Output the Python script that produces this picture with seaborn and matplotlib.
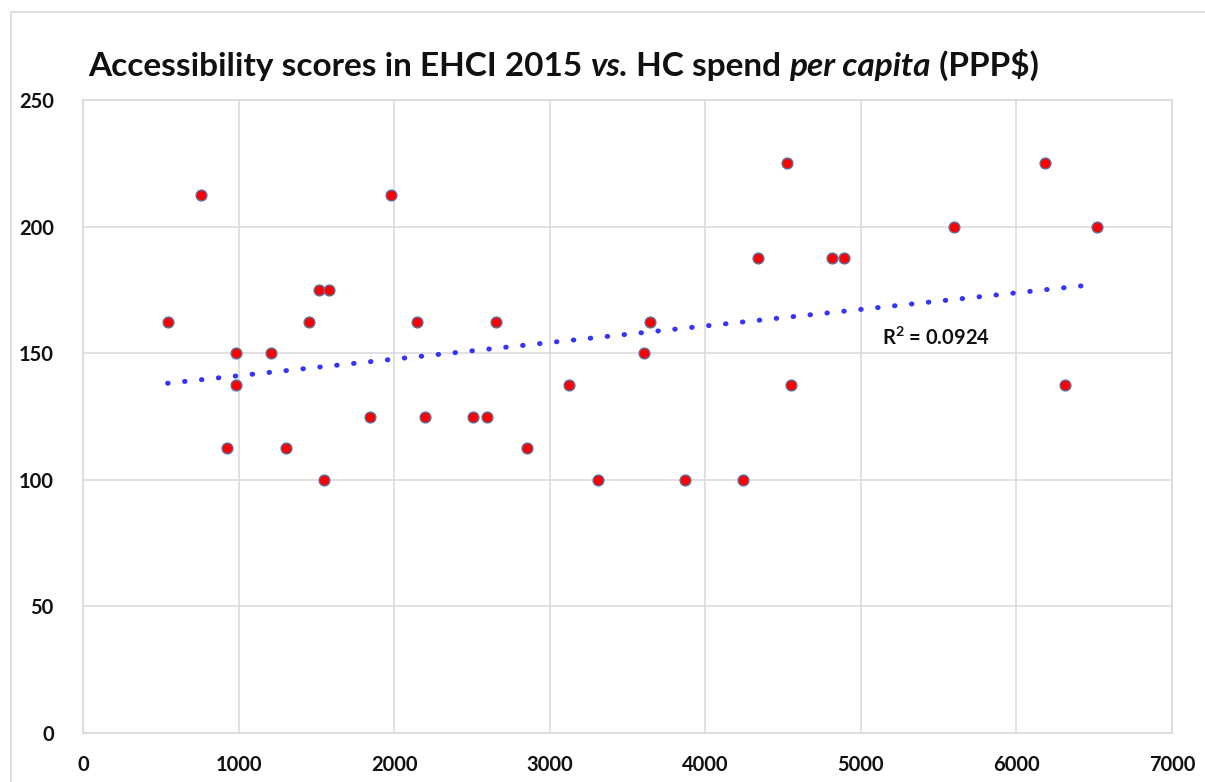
import numpy as np
import pandas as pd
import seaborn as sns
import matplotlib.pyplot as plt
from matplotlib.lines import Line2D

# Datos
spend = [544, 759, 926, 984, 984, 1209, 1307, 1451, 1520, 1552, 1580, 1846,
         1981, 2148, 2197, 2510, 2598, 2656, 2853, 3125, 3312, 3603, 3642,
         3869, 4245, 4336, 4525, 4551, 4817, 4889, 5597, 6186, 6312, 6519]
score = [162.5, 212.5, 112.5, 150, 137.5, 150, 112.5, 162.5, 175, 100, 175, 125,
         212.5, 162.5, 125, 125, 125, 162.5, 112.5, 137.5, 100, 150, 162.5,
         100, 100, 187.5, 225, 137.5, 187.5, 187.5, 200, 225, 137.5, 200]
x_ticks = [0, 1000, 2000, 3000, 4000, 5000, 6000, 7000]
y_ticks = [0, 50, 100, 150, 200, 250]
r2_label = r"R$^{\mathbf{2}}$ = 0.0924"

df = pd.DataFrame({"spend": spend, "score": score})

sns.set_theme(style="white")
plt.rcParams['font.family'] = ['Lato', 'DejaVu Sans']
plt.rcParams['mathtext.fontset'] = 'custom'
plt.rcParams['mathtext.bf'] = 'Lato:bold'
plt.rcParams['mathtext.rm'] = 'Lato'

W, H = 1205, 782
fig = plt.figure(figsize=(W / 100, H / 100), dpi=100)
ax = fig.add_axes([83 / W, 1 - 733 / H, (1172 - 83) / W, (733 - 100) / H])

GRID = "#d9d9d9"

# Línea de tendencia (regresión lineal)
sns.regplot(data=df, x="spend", y="score", scatter=False, ci=None, ax=ax,
            line_kws=dict(color="#3535f5", lw=3.6, linestyle=(0, (0.1, 3.3)),
                          dash_capstyle="round", zorder=3))

sns.scatterplot(data=df, x="spend", y="score", ax=ax, s=60, color="#ff0000",
                edgecolor="#5a6f9c", linewidth=1.0, zorder=4)

ax.set_xlim(0, 7000)
ax.set_ylim(0, 250)
ax.set_xticks(x_ticks)
ax.set_yticks(y_ticks)
ax.set_xlabel("")
ax.set_ylabel("")
ax.grid(True, color=GRID, lw=1.1)
ax.set_axisbelow(True)
for s in ax.spines.values():
    s.set_color(GRID)
    s.set_linewidth(1.2)
ax.tick_params(axis="both", length=0, labelsize=14.5, labelcolor="#111111")
ax.tick_params(axis="x", pad=16)
ax.tick_params(axis="y", pad=21)
for lab in ax.get_xticklabels() + ax.get_yticklabels():
    lab.set_fontweight("bold")

ax.text(5136, 153.3, r2_label, fontsize=14.5, fontweight="bold",
        ha="left", va="baseline", color="#111111")

# Título con partes en cursiva
parts = [("Accessibility scores in EHCI 2015 ", "normal"),
         ("vs.", "italic"),
         (" HC spend ", "normal"),
         ("per capita", "italic"),
         (" (PPP$)", "normal")]
fig.canvas.draw()
renderer = fig.canvas.get_renderer()
xpos = 88 / W
for txt, style in parts:
    t = fig.text(xpos, 1 - 76 / H, txt, fontsize=24, fontweight="bold",
                 fontstyle=style, ha="left", va="baseline", color="#111111")
    bb = t.get_window_extent(renderer)
    xpos += bb.width / W

# Borde del área del gráfico
fig.add_artist(Line2D([10.5 / W, 10.5 / W], [0, 1 - 11.5 / H], color=GRID, lw=1.2))
fig.add_artist(Line2D([10.5 / W, 1], [1 - 11.5 / H, 1 - 11.5 / H], color=GRID, lw=1.2))

fig.savefig("out.png", dpi=100)
